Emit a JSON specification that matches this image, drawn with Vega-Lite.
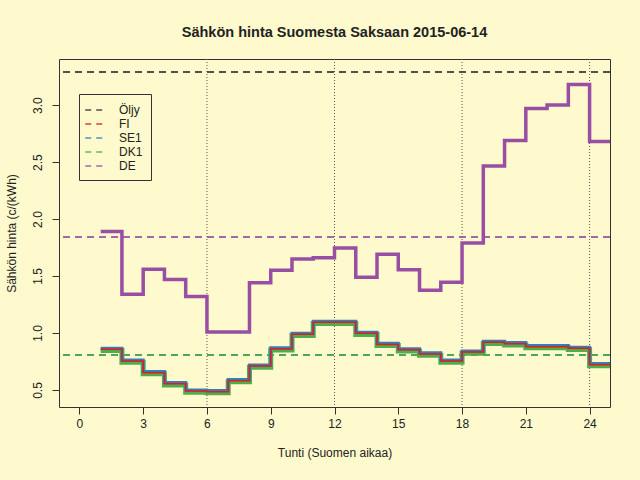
{
  "$schema": "https://vega.github.io/schema/vega-lite/v6.json",
  "width": 551,
  "height": 348,
  "autosize": "none",
  "padding": {"left": 59, "top": 59, "right": 30, "bottom": 73},
  "background": "#FFFACD",
  "title": {
    "text": "Sähkön hinta Suomesta Saksaan 2015-06-14",
    "font": "Liberation Sans",
    "fontSize": 14.5,
    "fontWeight": "bold",
    "color": "#222222",
    "frame": "group",
    "anchor": "middle",
    "offset": 18
  },
  "config": {
    "view": {"stroke": "#333333", "strokeWidth": 1, "fill": "#FFFACD"},
    "axis": {
      "labelFont": "Liberation Sans",
      "titleFont": "Liberation Sans",
      "labelFontSize": 12,
      "titleFontSize": 12,
      "titleFontWeight": "normal",
      "labelColor": "#222222",
      "titleColor": "#222222",
      "tickColor": "#333333",
      "tickSize": 7,
      "domain": false,
      "grid": false
    },
    "legend": {
      "orient": "none",
      "legendX": 20,
      "legendY": 35,
      "title": null,
      "strokeColor": "#333333",
      "padding": 8,
      "symbolType": "M-1.4,0H1.4",
      "symbolSize": 196,
      "symbolStrokeWidth": 1.5,
      "symbolDash": [6, 5],
      "labelFont": "Liberation Sans",
      "labelFontSize": 12,
      "labelColor": "#222222",
      "rowPadding": 0,
      "labelOffset": 16
    }
  },
  "datasets": {
    "hourly": [
      {"hour": 1, "FI": 0.857, "SE1": 0.867, "DK1": 0.847, "DE": 1.89},
      {"hour": 2, "FI": 0.754, "SE1": 0.764, "DK1": 0.744, "DE": 1.34},
      {"hour": 3, "FI": 0.652, "SE1": 0.662, "DK1": 0.642, "DE": 1.56},
      {"hour": 4, "FI": 0.555, "SE1": 0.565, "DK1": 0.545, "DE": 1.47},
      {"hour": 5, "FI": 0.491, "SE1": 0.501, "DK1": 0.481, "DE": 1.32},
      {"hour": 6, "FI": 0.485, "SE1": 0.495, "DK1": 0.475, "DE": 1.01},
      {"hour": 7, "FI": 0.582, "SE1": 0.592, "DK1": 0.572, "DE": 1.01},
      {"hour": 8, "FI": 0.71, "SE1": 0.72, "DK1": 0.7, "DE": 1.44},
      {"hour": 9, "FI": 0.86, "SE1": 0.87, "DK1": 0.85, "DE": 1.55},
      {"hour": 10, "FI": 0.989, "SE1": 0.999, "DK1": 0.979, "DE": 1.65},
      {"hour": 11, "FI": 1.094, "SE1": 1.104, "DK1": 1.084, "DE": 1.66},
      {"hour": 12, "FI": 1.094, "SE1": 1.104, "DK1": 1.084, "DE": 1.745},
      {"hour": 13, "FI": 0.997, "SE1": 1.007, "DK1": 0.987, "DE": 1.49},
      {"hour": 14, "FI": 0.9, "SE1": 0.91, "DK1": 0.89, "DE": 1.69},
      {"hour": 15, "FI": 0.853, "SE1": 0.863, "DK1": 0.843, "DE": 1.555},
      {"hour": 16, "FI": 0.816, "SE1": 0.826, "DK1": 0.806, "DE": 1.375},
      {"hour": 17, "FI": 0.754, "SE1": 0.764, "DK1": 0.744, "DE": 1.445},
      {"hour": 18, "FI": 0.833, "SE1": 0.843, "DK1": 0.823, "DE": 1.79},
      {"hour": 19, "FI": 0.918, "SE1": 0.928, "DK1": 0.908, "DE": 2.465},
      {"hour": 20, "FI": 0.906, "SE1": 0.916, "DK1": 0.896, "DE": 2.69},
      {"hour": 21, "FI": 0.88, "SE1": 0.89, "DK1": 0.87, "DE": 2.97},
      {"hour": 22, "FI": 0.88, "SE1": 0.89, "DK1": 0.87, "DE": 3.0},
      {"hour": 23, "FI": 0.866, "SE1": 0.876, "DK1": 0.856, "DE": 3.18},
      {"hour": 24, "FI": 0.722, "SE1": 0.732, "DK1": 0.712, "DE": 2.68},
      {"hour": 25, "FI": 0.722, "SE1": 0.732, "DK1": 0.712, "DE": 2.68}
    ],
    "averages": [
      {"series": "FI", "value": 0.807},
      {"series": "SE1", "value": 0.807},
      {"series": "DK1", "value": 0.807},
      {"series": "DE", "value": 1.842},
      {"series": "Öljy", "value": 3.29}
    ],
    "marks6h": [
      {"hour": 6},
      {"hour": 12},
      {"hour": 18},
      {"hour": 24}
    ]
  },
  "encoding": {
    "x": {
      "type": "quantitative",
      "scale": {"domain": [-0.96, 24.96], "nice": false, "zero": false},
      "axis": {
        "values": [0, 3, 6, 9, 12, 15, 18, 21, 24],
        "title": "Tunti (Suomen aikaa)",
        "labelPadding": 4,
        "titlePadding": 18
      }
    },
    "y": {
      "type": "quantitative",
      "scale": {"domain": [0.351, 3.404], "nice": false, "zero": false},
      "axis": {
        "values": [0.5, 1, 1.5, 2, 2.5, 3],
        "format": ".1f",
        "labelAngle": -90,
        "labelAlign": "center",
        "labelBaseline": "bottom",
        "labelPadding": 8,
        "title": "Sähkön hinta (c/(kWh)",
        "titlePadding": 13
      }
    }
  },
  "layer": [
    {
      "data": {"name": "marks6h"},
      "mark": {"type": "rule", "color": "#555555", "strokeWidth": 1, "strokeDash": [1, 2]},
      "encoding": {"x": {"field": "hour", "type": "quantitative"}}
    },
    {
      "data": {"name": "averages"},
      "mark": {"type": "rule", "strokeWidth": 2, "strokeDash": [7, 5], "opacity": 0.85},
      "encoding": {
        "y": {"field": "value", "type": "quantitative"},
        "color": {
          "field": "series",
          "type": "nominal",
          "scale": {
            "domain": ["Öljy", "FI", "SE1", "DK1", "DE"],
            "range": ["#333333", "#E41A1C", "#377EB8", "#4DAF4A", "#984EA3"]
          }
        }
      }
    },
    {
      "data": {"name": "hourly"},
      "mark": {"type": "line", "interpolate": "step-after", "strokeWidth": 3.5, "clip": true},
      "encoding": {
        "x": {"field": "hour", "type": "quantitative"},
        "y": {"field": "DE", "type": "quantitative"},
        "color": {"datum": "DE"}
      }
    },
    {
      "data": {"name": "hourly"},
      "mark": {"type": "line", "interpolate": "step-after", "strokeWidth": 5, "clip": true},
      "encoding": {
        "x": {"field": "hour", "type": "quantitative"},
        "y": {"field": "DK1", "type": "quantitative"},
        "color": {"datum": "DK1"}
      }
    },
    {
      "data": {"name": "hourly"},
      "mark": {"type": "line", "interpolate": "step-after", "strokeWidth": 3, "clip": true},
      "encoding": {
        "x": {"field": "hour", "type": "quantitative"},
        "y": {"field": "SE1", "type": "quantitative"},
        "color": {"datum": "SE1"}
      }
    },
    {
      "data": {"name": "hourly"},
      "mark": {"type": "line", "interpolate": "step-after", "strokeWidth": 1.5, "clip": true},
      "encoding": {
        "x": {"field": "hour", "type": "quantitative"},
        "y": {"field": "FI", "type": "quantitative"},
        "color": {"datum": "FI"}
      }
    }
  ]
}
